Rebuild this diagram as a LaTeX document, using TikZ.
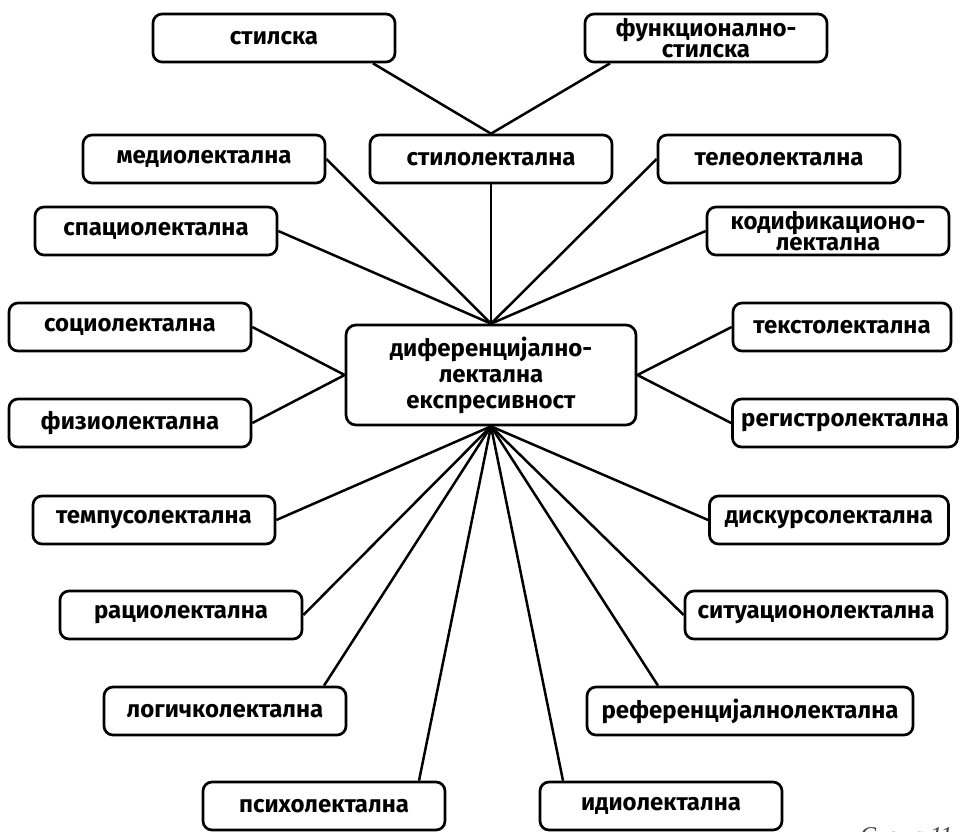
\documentclass[tikz,border=0pt]{standalone}
\usepackage{fontspec}
\setmainfont{Fira Sans}
\newfontfamily\capfont{Liberation Serif}
\begin{document}
\begin{tikzpicture}[x=1pt,y=-1pt,
  box/.style={draw, line width=2.7pt, rounded corners=9pt, minimum height=48pt, inner sep=0pt,
    font=\fontsize{24}{21}\selectfont\bfseries, align=center},
  hub/.style={draw, line width=2.7pt, rounded corners=10pt, minimum height=100pt, minimum width=290pt, inner sep=0pt,
    font=\fontsize{24}{26}\selectfont\bfseries, align=center},
  ln/.style={line width=2.5pt}]
\useasboundingbox[fill=white] (0,0) rectangle (962,831);
\node[hub] (c) at (491,375) {диференцијално-\\лектална\\експресивност};
\node[box, minimum width=242pt] (stilska) at (274,38) {стилска};
\node[box, minimum width=242pt] (funk) at (706,38) {функционално-\\стилска};
\node[box, minimum width=242pt] (medio) at (204,159) {медиолектална};
\node[box, minimum width=242pt] (stilo) at (491,159) {стилолектална};
\node[box, minimum width=242pt] (teleo) at (779,159) {телеолектална};
\node[box, minimum width=242pt] (spacio) at (156,231) {спациолектална};
\node[box, minimum width=242pt] (kodif) at (828,231) {кодификационо-\\лектална};
\node[box, minimum width=242pt] (socio) at (130,327) {социолектална};
\node[box, minimum width=218pt] (teksto) at (842,327) {текстолектална};
\node[box, minimum width=242pt] (fizio) at (130,423) {физиолектална};
\node[box, minimum width=225pt] (registro) at (845,423) {регистролектална};
\node[box, minimum width=242pt] (tempus) at (154,520) {темпусолектална};
\node[box, minimum width=239pt] (diskurs) at (829,520) {дискурсолектална};
\node[box, minimum width=242pt] (racio) at (181,615) {рациолектална};
\node[box, minimum width=262pt] (situac) at (816,615) {ситуационолектална};
\node[box, minimum width=242pt] (logic) at (225,711) {логичколектална};
\node[box, minimum width=326pt] (refer) at (750,711) {референцијалнолектална};
\node[box, minimum width=242pt] (psiho) at (324,806) {психолектална};
\node[box, minimum width=242pt] (idio) at (661,806) {идиолектална};
\node[font=\capfont\itshape\fontsize{24}{24}\selectfont, text=black!75, anchor=base west, inner sep=0pt] (cap) at (860,843) {Схема 11};
\draw[ln] ([xshift=99pt]stilska.south) -- (stilo.north);
\draw[ln] ([xshift=-96pt]funk.south) -- (stilo.north);
\draw[ln] (stilo) -- (c.north);
\draw[ln] (medio.east) -- (c.north);
\draw[ln] (spacio.east) -- (c.north);
\draw[ln] (teleo.west) -- (c.north);
\draw[ln] (kodif.west) -- (c.north);
\draw[ln] (socio.east) -- (c.west);
\draw[ln] (fizio.east) -- (c.west);
\draw[ln] (teksto.west) -- (c.east);
\draw[ln] (registro.west) -- (c.east);
\draw[ln] (tempus.east) -- (c.south);
\draw[ln] (racio.east) -- (c.south);
\draw[ln] ([xshift=99pt]logic.north) -- (c.south);
\draw[ln] ([xshift=95pt]psiho.north) -- (c.south);
\draw[ln] ([xshift=-98pt]idio.north) -- (c.south);
\draw[ln] ([xshift=-92pt]refer.north) -- (c.south);
\draw[ln] (situac.west) -- (c.south);
\draw[ln] (diskurs.west) -- (c.south);
\end{tikzpicture}
\end{document}
